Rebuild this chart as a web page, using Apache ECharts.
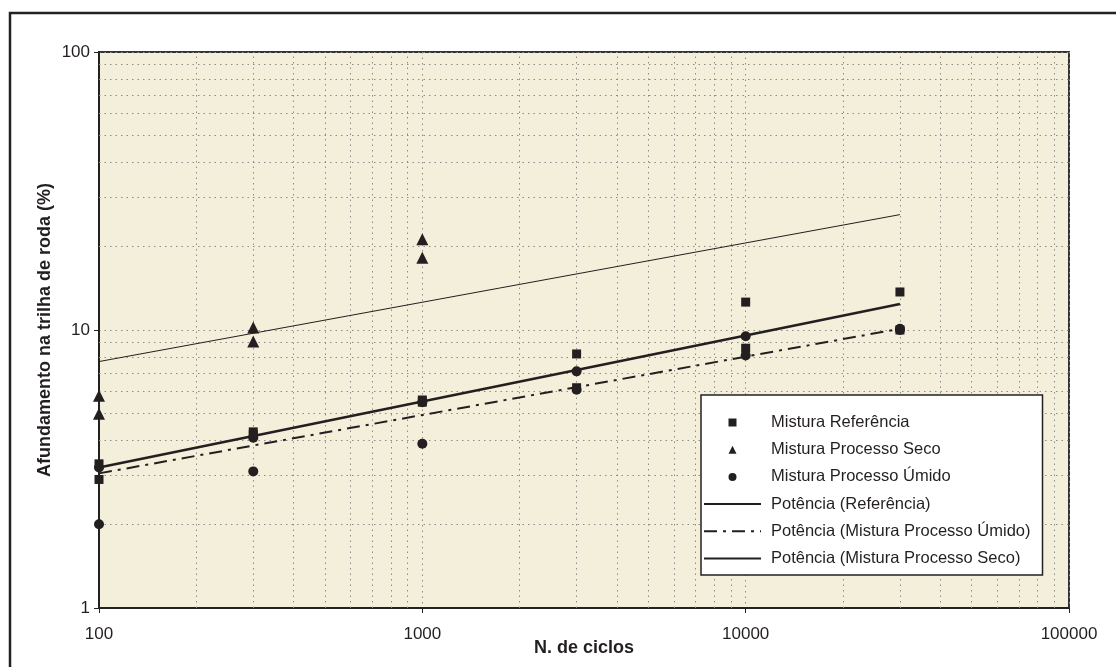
<!DOCTYPE html>
<html>
<head>
<meta charset="utf-8">
<title>Afundamento na trilha de roda</title>
<script src="https://cdn.jsdelivr.net/npm/echarts@6/dist/echarts.min.js"></script>
<style>
  html, body { margin: 0; padding: 0; background: #fff; }
  #chart { width: 1116px; height: 667px; }
</style>
</head>
<body>
<div id="chart"></div>
<script>
// valores
var cycles = [100, 300, 1000, 3000, 10000, 30000];
var refHigh = [3.3, 4.3, 5.6, 8.2, 12.6, 13.7];
var refLow = [2.9, 4.2, 5.5, 6.2, 8.6, 10.0];
var secoCycles = [100, 300, 1000];
var secoHigh = [5.8, 10.2, 21.2];
var secoLow = [5.0, 9.1, 18.2];
var umidoHigh = [3.2, 4.1, 5.5, 7.1, 9.5, 10.1];
var umidoLow = [2.0, 3.1, 3.9, 6.1, 8.1, 10.0];

// linhas de tendencia (potencia), extremos
var trendCycles = [100, 30000];
var trendRef = [7.7, 26.0];
var trendUmido = [3.05, 10.1];
var trendSeco = [3.2, 12.4];

var names = ['Mistura Referência', 'Mistura Processo Seco', 'Mistura Processo Úmido',
  'Potência (Referência)', 'Potência (Mistura Processo Úmido)', 'Potência (Mistura Processo Seco)'];

var ink = '#231f20';
var font = 'Liberation Sans, Arial, sans-serif';

function pairs(xs, ys) {
  return xs.map(function (x, i) { return [x, ys[i]]; });
}

// linhas de grade secundarias (2..9 de cada decada)
var minorX = [], minorY = [];
[100, 1000, 10000].forEach(function (d) {
  for (var k = 2; k <= 9; k++) minorX.push(d * k);
});
[1, 10].forEach(function (d) {
  for (var k = 2; k <= 9; k++) minorY.push(d * k);
});
var gridLines = minorX.map(function (v) { return { xAxis: v }; })
  .concat(minorY.map(function (v) { return { yAxis: v }; }));

var dotted = { color: '#8c8c8c', width: 1, type: [1.5, 4] };
// esconde o circulo que o ECharts desenha no icone das linhas
var noDot = { opacity: 0 };

var chart = echarts.init(document.getElementById('chart'));

var option = {
  animation: false,
  textStyle: { fontFamily: font },
  graphic: [{
    type: 'rect',
    shape: { x: 10, y: 13, width: 1200, height: 800 },
    style: { fill: 'none', stroke: '#222', lineWidth: 2.5 },
    silent: true
  }],
  grid: {
    left: 99, right: 47, top: 52, bottom: 59,
    outerBoundsMode: 'none',
    show: true,
    backgroundColor: '#f3efda',
    borderColor: '#333',
    borderWidth: 2
  },
  legend: {
    data: [
      { name: names[0], icon: 'path://M0,0H1V1H0Z' },
      { name: names[1], icon: 'path://M0.5,0L1,1H0Z' },
      { name: names[2], icon: 'path://M1,0.5A0.5,0.5,0,1,1,0,0.5A0.5,0.5,0,1,1,1,0.5Z' },
      { name: names[3], itemStyle: noDot },
      { name: names[4], itemStyle: noDot },
      { name: names[5], itemStyle: noDot }
    ],
    orient: 'vertical',
    left: 701,
    top: 395,
    itemWidth: 57,
    itemHeight: 8,
    itemGap: 10.2,
    padding: [19, 12, 8, 2],
    backgroundColor: '#fff',
    borderColor: '#222',
    borderWidth: 1.5,
    textStyle: { fontSize: 16.5, color: ink, lineHeight: 16.5, padding: [0, 0, 0, 5] }
  },
  xAxis: {
    type: 'log',
    logBase: 10,
    min: 100,
    max: 100000,
    name: 'N. de ciclos',
    nameLocation: 'middle',
    nameMoveOverlap: false,
    nameGap: 31,
    nameTextStyle: { fontSize: 18, fontWeight: 'bold', color: ink },
    axisLine: { lineStyle: { color: '#222', width: 2 } },
    axisTick: { length: 5, lineStyle: { color: '#222' } },
    axisLabel: { fontSize: 17, color: ink, margin: 18, formatter: function (v) { return String(v); } },
    splitLine: { show: true, lineStyle: dotted }
  },
  yAxis: {
    type: 'log',
    logBase: 10,
    min: 1,
    max: 100,
    name: 'Afundamento na trilha de roda (%)',
    nameLocation: 'middle',
    nameMoveOverlap: false,
    nameRotate: 90,
    nameGap: 45,
    nameTextStyle: { fontSize: 18, fontWeight: 'bold', color: ink },
    axisLine: { lineStyle: { color: '#222', width: 2 } },
    axisTick: { length: 5, lineStyle: { color: '#222' } },
    axisLabel: { fontSize: 17, color: ink, margin: 9, formatter: function (v) { return String(v); } },
    splitLine: { show: true, lineStyle: dotted }
  },
  series: [
    {
      name: 'grade',
      type: 'line',
      data: [],
      z: 1,
      silent: true,
      markLine: {
        z: 1,
        silent: true,
        symbol: ['none', 'none'],
        label: { show: false },
        lineStyle: dotted,
        emphasis: { disabled: true },
        data: gridLines
      }
    },
    {
      name: names[3],
      type: 'line',
      symbol: 'none',
      z: 3,
      data: pairs(trendCycles, trendRef),
      lineStyle: { color: ink, width: 1 },
      itemStyle: { color: ink }
    },
    {
      name: names[4],
      type: 'line',
      symbol: 'none',
      z: 3,
      data: pairs(trendCycles, trendUmido),
      lineStyle: { color: ink, width: 2, type: [13, 6, 3, 6] },
      itemStyle: { color: ink }
    },
    {
      name: names[5],
      type: 'line',
      symbol: 'none',
      z: 3,
      data: pairs(trendCycles, trendSeco),
      lineStyle: { color: ink, width: 2.5 },
      itemStyle: { color: ink }
    },
    {
      name: names[2],
      type: 'scatter',
      symbol: 'circle',
      symbolSize: 10,
      z: 4,
      itemStyle: { color: ink, opacity: 1 },
      data: pairs(cycles, umidoHigh).concat(pairs(cycles, umidoLow))
    },
    {
      name: names[1],
      type: 'scatter',
      symbol: 'triangle',
      symbolSize: 12,
      z: 4,
      itemStyle: { color: ink, opacity: 1 },
      data: pairs(secoCycles, secoHigh).concat(pairs(secoCycles, secoLow))
    },
    {
      name: names[0],
      type: 'scatter',
      symbol: 'rect',
      symbolSize: 9,
      z: 4,
      itemStyle: { color: ink, opacity: 1 },
      data: pairs(cycles, refHigh).concat(pairs(cycles, refLow))
    }
  ]
};

chart.setOption(option);
</script>
</body>
</html>
